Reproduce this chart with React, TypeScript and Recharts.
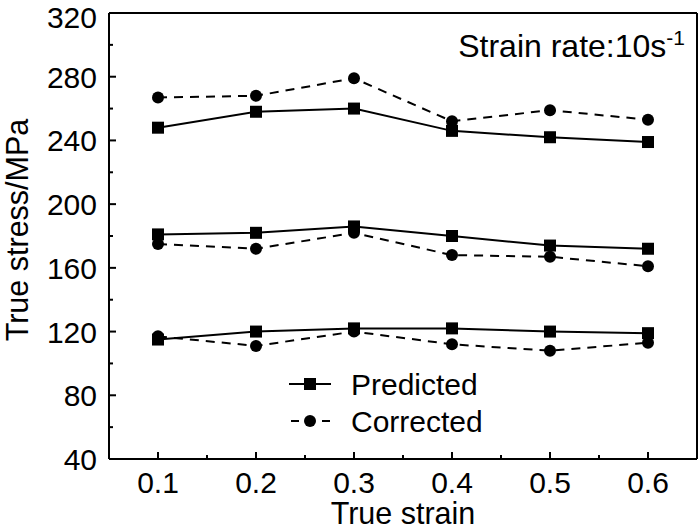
import { LineChart, Line, XAxis, YAxis, ReferenceLine, Legend } from "recharts";

const strain = [0.1, 0.2, 0.3, 0.4, 0.5, 0.6];
const predictedHigh = [248, 258, 260, 246, 242, 239];
const correctedHigh = [267, 268, 279, 252, 259, 253];
const predictedMid = [181, 182, 186, 180, 174, 172];
const correctedMid = [175, 172, 182, 168, 167, 161];
const predictedLow = [115, 120, 122, 122, 120, 119];
const correctedLow = [117, 111, 120, 112, 108, 113];

const xTicks = [0.1, 0.15, 0.2, 0.25, 0.3, 0.35, 0.4, 0.45, 0.5, 0.55, 0.6];
const xMajor = [0.1, 0.2, 0.3, 0.4, 0.5, 0.6];
const yTicks = [40, 60, 80, 100, 120, 140, 160, 180, 200, 220, 240, 260, 280, 300, 320];
const yMajor = [40, 80, 120, 160, 200, 240, 280, 320];

const seriesNames = ["Predicted", "Corrected"];
const annotation = "Strain rate:10s";

const data = strain.map((s, i) => ({
  strain: s,
  pH: predictedHigh[i],
  cH: correctedHigh[i],
  pM: predictedMid[i],
  cM: correctedMid[i],
  pL: predictedLow[i],
  cL: correctedLow[i],
}));

const FONT = "'Liberation Sans', Arial, sans-serif";

const XTick = (props: any) => {
  const { x, y, payload } = props;
  const major = xMajor.includes(payload.value);
  return (
    <g>
      <line x1={x} x2={x} y1={y} y2={y - (major ? 7 : 4)} stroke="#000" strokeWidth={2} />
      {major && (
        <text x={x} y={y + 34} textAnchor="middle" fontSize={30} fontFamily={FONT} fill="#000">
          {payload.value.toFixed(1)}
        </text>
      )}
    </g>
  );
};

const YTick = (props: any) => {
  const { x, y, payload } = props;
  const major = yMajor.includes(payload.value);
  // keep the top label inside the picture
  const base = Math.max(y + 11, 28);
  return (
    <g>
      <line x1={x} x2={x + (major ? 7 : 4)} y1={y} y2={y} stroke="#000" strokeWidth={2} />
      {major && (
        <text x={x - 12} y={base} textAnchor="end" fontSize={30} fontFamily={FONT} fill="#000">
          {payload.value}
        </text>
      )}
    </g>
  );
};

const squareDot = (p: any) => (
  <rect key={p.index} x={p.cx - 6} y={p.cy - 6} width={12} height={12} fill="#000" />
);
const circleDot = (p: any) => (
  <circle key={p.index} cx={p.cx} cy={p.cy} r={6} fill="#000" />
);

const LegendBox = () => (
  <svg width={230} height={80}>
    <line x1={4} x2={46} y1={22} y2={22} stroke="#000" strokeWidth={2} />
    <rect x={19} y={16} width={12} height={12} fill="#000" />
    <text x={66} y={33} fontSize={30} fontFamily={FONT} fill="#000">
      {seriesNames[0]}
    </text>
    <line x1={6} x2={14} y1={59} y2={59} stroke="#000" strokeWidth={2} />
    <line x1={37} x2={45} y1={59} y2={59} stroke="#000" strokeWidth={2} />
    <circle cx={25} cy={59} r={6} fill="#000" />
    <text x={66} y={70} fontSize={30} fontFamily={FONT} fill="#000">
      {seriesNames[1]}
    </text>
  </svg>
);

const lineProps = { type: "linear" as const, stroke: "#000", strokeWidth: 2, isAnimationActive: false };

export default function App() {
  return (
    <div style={{ position: "absolute", left: 0, top: 0, width: 700, height: 531, background: "#fff", fontFamily: FONT }}>
      <LineChart width={700} height={531} data={data} margin={{ top: 13, right: 3, left: 0, bottom: 0 }}>
        <XAxis
          dataKey="strain"
          type="number"
          domain={[0.05, 0.65]}
          ticks={xTicks}
          interval={0}
          height={72}
          tickSize={0}
          tickMargin={0}
          tickLine={false}
          tick={XTick}
          axisLine={{ stroke: "#000", strokeWidth: 2 }}
          label={{ value: "True strain", position: "insideBottom", offset: 7, fontSize: 30.5, fill: "#000", fontFamily: FONT }}
        />
        <YAxis
          type="number"
          domain={[40, 320]}
          ticks={yTicks}
          interval={0}
          width={109}
          tickSize={0}
          tickMargin={0}
          tickLine={false}
          tick={YTick}
          axisLine={{ stroke: "#000", strokeWidth: 2 }}
          label={{
            content: () => (
              <text
                x={28}
                y={230}
                transform="rotate(-90, 28, 230)"
                textAnchor="middle"
                fontSize={30.5}
                fontFamily={FONT}
                fill="#000"
              >
                True stress/MPa
              </text>
            ),
          }}
        />
        <ReferenceLine y={320} stroke="#000" strokeWidth={2} />
        <ReferenceLine x={0.65} stroke="#000" strokeWidth={2} />
        <Line dataKey="cH" {...lineProps} strokeDasharray="9 7" dot={circleDot} name={seriesNames[1]} />
        <Line dataKey="pH" {...lineProps} dot={squareDot} name={seriesNames[0]} />
        <Line dataKey="cM" {...lineProps} strokeDasharray="9 7" dot={circleDot} legendType="none" />
        <Line dataKey="pM" {...lineProps} dot={squareDot} legendType="none" />
        <Line dataKey="cL" {...lineProps} strokeDasharray="9 7" dot={circleDot} legendType="none" />
        <Line dataKey="pL" {...lineProps} dot={squareDot} legendType="none" />
        <Legend
          layout="vertical"
          align="center"
          verticalAlign="middle"
          content={() => <LegendBox />}
          wrapperStyle={{ left: 285, top: 362, width: 230, height: 80 }}
        />
      </LineChart>
      <svg width={700} height={531} style={{ position: "absolute", left: 0, top: 0, pointerEvents: "none" }}>
        <text x={685} y={57} textAnchor="end" fontSize={32} fontFamily={FONT} fill="#000">
          {annotation}
          <tspan dy={-12} fontSize={21}>-1</tspan>
        </text>
      </svg>
    </div>
  );
}
